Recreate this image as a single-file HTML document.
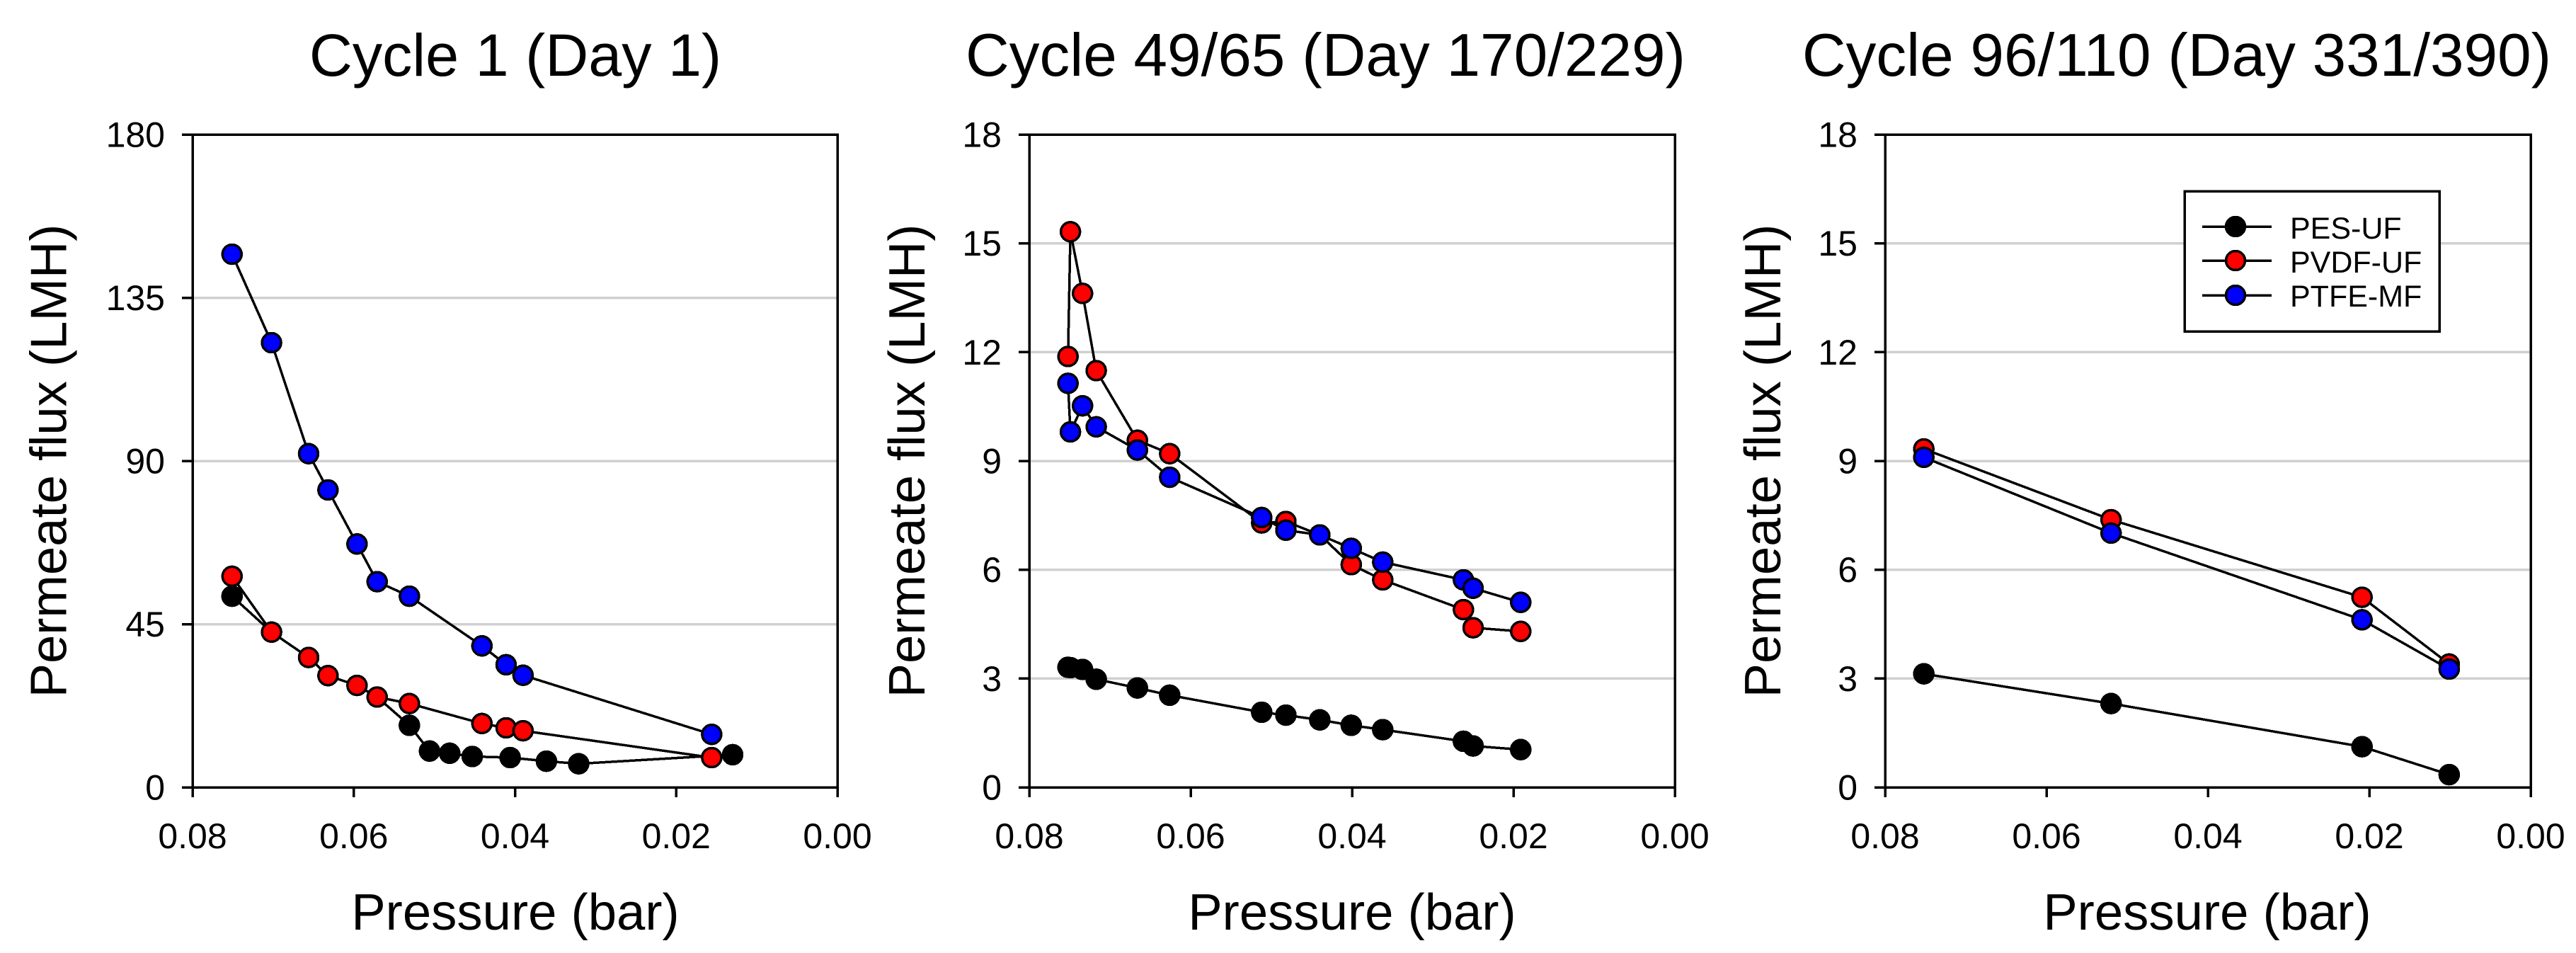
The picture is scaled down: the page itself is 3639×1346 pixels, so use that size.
<!DOCTYPE html>
<html lang="en">
<head>
<meta charset="utf-8">
<title>Permeate flux vs pressure</title>
<style>
html,body{margin:0;padding:0;background:#fff;}
svg{display:block;font-family:"Liberation Sans",Arial,sans-serif;fill:#000;shape-rendering:crispEdges;}
</style>
</head>
<body>
<svg id="chart" xmlns="http://www.w3.org/2000/svg" width="3639" height="1346" viewBox="0 0 3639 1346">
  <rect x="0" y="0" width="3639" height="1346" fill="#fff"/>
  <g id="panel-1"></g>
  <g id="panel-2"></g>
  <g id="panel-3"></g>
  <text x="728" y="107" font-size="84.5" text-anchor="middle">Cycle 1 (Day 1)</text>
  <text x="1872.5" y="107" font-size="85.5" text-anchor="middle">Cycle 49/65 (Day 170/229)</text>
  <text x="3075" y="107" font-size="85.5" text-anchor="middle">Cycle 96/110 (Day 331/390)</text>
  <text x="728" y="1313" font-size="72.5" text-anchor="middle">Pressure (bar)</text>
  <text x="1910" y="1313" font-size="72.5" text-anchor="middle">Pressure (bar)</text>
  <text x="3118" y="1313" font-size="72.5" text-anchor="middle">Pressure (bar)</text>
  <text transform="translate(93.5 651) rotate(-90)" font-size="72.5" text-anchor="middle">Permeate flux (LMH)</text>
  <text transform="translate(1306 651) rotate(-90)" font-size="72.5" text-anchor="middle">Permeate flux (LMH)</text>
  <text transform="translate(2515 651) rotate(-90)" font-size="72.5" text-anchor="middle">Permeate flux (LMH)</text>
  <g>
    <rect x="3086" y="270" width="360" height="198" fill="#fff" stroke="#000" stroke-width="3.5"/>
    <g>
      <line x1="3111" x2="3209" y1="320" y2="320" stroke="#000" stroke-width="3.5"/>
      <circle cx="3158" cy="320" r="13.5" fill="#000" stroke="#000" stroke-width="3.5"/>
      <text x="3235" y="337" font-size="43">PES-UF</text>
    </g>
    <g>
      <line x1="3111" x2="3209" y1="368" y2="368" stroke="#000" stroke-width="3.5"/>
      <circle cx="3158" cy="368" r="13.5" fill="#ff0000" stroke="#000" stroke-width="3.5"/>
      <text x="3235" y="385" font-size="43">PVDF-UF</text>
    </g>
    <g>
      <line x1="3111" x2="3209" y1="417" y2="417" stroke="#000" stroke-width="3.5"/>
      <circle cx="3158" cy="417" r="13.5" fill="#0000ff" stroke="#000" stroke-width="3.5"/>
      <text x="3235" y="433" font-size="43">PTFE-MF</text>
    </g>
  </g>
</svg>
<script>
const xTickValues = [0.08, 0.06, 0.04, 0.02, 0];
const xTickLabels = ['0.08', '0.06', '0.04', '0.02', '0.00'];
const yTicksCycle1 = [0, 45, 90, 135, 180];
const yTicksLater = [0, 3, 6, 9, 12, 15, 18];

const c1PressureMembranes = [0.0751, 0.0702, 0.0656, 0.0632, 0.0596, 0.0571, 0.0531, 0.0441, 0.0411, 0.0390, 0.0156];
const c1PressurePes = [0.0751, 0.0702, 0.0656, 0.0632, 0.0596, 0.0571, 0.0531, 0.0506, 0.0481, 0.0453, 0.0406, 0.0361, 0.0321, 0.0130];
const c1Pes = [52.7, 42.8, 35.8, 30.8, 28.1, 24.9, 17.1, 10.0, 9.4, 8.5, 8.2, 7.2, 6.5, 9.0];
const c1Pvdf = [58.2, 42.8, 35.8, 30.8, 28.1, 24.9, 23.1, 17.6, 16.4, 15.6, 8.2];
const c1Ptfe = [147.0, 122.6, 92.0, 82.0, 67.1, 56.7, 52.7, 39.0, 33.8, 30.9, 14.6];

const c2Pressure = [0.0752, 0.0749, 0.0734, 0.0717, 0.0666, 0.0626, 0.0512, 0.0482, 0.0440, 0.0401, 0.0362, 0.0262, 0.0250, 0.0191];
const c2Pes = [3.31, 3.30, 3.25, 2.98, 2.74, 2.54, 2.07, 1.99, 1.86, 1.71, 1.59, 1.27, 1.14, 1.04];
const c2Pvdf = [11.88, 15.32, 13.62, 11.49, 9.57, 9.20, 7.29, 7.33, 6.96, 6.14, 5.72, 4.90, 4.40, 4.30];
const c2Ptfe = [11.14, 9.80, 10.52, 9.94, 9.30, 8.55, 7.44, 7.09, 6.96, 6.59, 6.21, 5.72, 5.49, 5.10];

const c3Pressure = [0.0752, 0.0520, 0.0209, 0.0101];
const c3Pes = [3.13, 2.31, 1.12, 0.35];
const c3Pvdf = [9.33, 7.38, 5.24, 3.40];
const c3Ptfe = [9.10, 7.01, 4.62, 3.26];

const SVG_NS = 'http://www.w3.org/2000/svg';
const PLOT_TOP = 190;
const PLOT_BOTTOM = 1112;
const X_DOMAIN_MAX = 0.08;

function create(tag, parent) {
  const el = document.createElementNS(SVG_NS, tag);
  parent.appendChild(el);
  return el;
}

function drawLine(parent, x1, y1, x2, y2, color, width) {
  const line = create('line', parent);
  line.setAttribute('x1', x1);
  line.setAttribute('y1', y1);
  line.setAttribute('x2', x2);
  line.setAttribute('y2', y2);
  line.setAttribute('stroke', color);
  line.setAttribute('stroke-width', width);
  return line;
}

function drawSeries(parent, name, color, xs, ys, xScale, yScale) {
  const group = create('g', parent);
  
  
  const path = create('polyline', group);
  
  
  path.setAttribute('fill', 'none');
  path.setAttribute('stroke', '#000');
  path.setAttribute('stroke-width', '3.5');
  path.setAttribute('points', xs.map((x, i) => xScale(x) + ',' + yScale(ys[i])).join(' '));
  xs.forEach((x, i) => {
    const point = create('circle', group);
    
    
    point.setAttribute('cx', xScale(x));
    point.setAttribute('cy', yScale(ys[i]));
    point.setAttribute('r', '13.5');
    point.setAttribute('fill', color);
    point.setAttribute('stroke', '#000');
    point.setAttribute('stroke-width', '3.5');
  });
}

function drawPanel(id, left, right, yTicks, series) {
  const root = document.getElementById(id);
  const yMax = yTicks[yTicks.length - 1];
  const xScale = v => left + (X_DOMAIN_MAX - v) / X_DOMAIN_MAX * (right - left);
  const yScale = v => PLOT_BOTTOM - v / yMax * (PLOT_BOTTOM - PLOT_TOP);

  yTicks.forEach(t => {
    if (t !== 0 && t !== yMax) {
      const grid = drawLine(root, left, yScale(t), right, yScale(t), '#d0d0d0', 3.5);
      
      
    }
  });

  const frame = create('rect', root);
  
  
  frame.setAttribute('x', left);
  frame.setAttribute('y', PLOT_TOP);
  frame.setAttribute('width', right - left);
  frame.setAttribute('height', PLOT_BOTTOM - PLOT_TOP);
  frame.setAttribute('fill', 'none');
  frame.setAttribute('stroke', '#000');
  frame.setAttribute('stroke-width', '3.5');

  yTicks.forEach(t => {
    const tick = drawLine(root, left - 15, yScale(t), left, yScale(t), '#000', 3.5);
    
    
    const label = create('text', root);
    
    
    label.setAttribute('x', left - 39);
    label.setAttribute('y', yScale(t) + 17.5);
    label.setAttribute('font-size', '50');
    label.setAttribute('text-anchor', 'end');
    label.textContent = String(t);
  });

  xTickValues.forEach((v, i) => {
    const tick = drawLine(root, xScale(v), PLOT_BOTTOM, xScale(v), PLOT_BOTTOM + 14, '#000', 3.5);
    
    
    const label = create('text', root);
    
    
    label.setAttribute('x', xScale(v));
    label.setAttribute('y', 1198);
    label.setAttribute('font-size', '50');
    label.setAttribute('text-anchor', 'middle');
    label.textContent = xTickLabels[i];
  });

  series.forEach(s => drawSeries(root, s[0], s[1], s[2], s[3], xScale, yScale));
}

drawPanel('panel-1', 272, 1183, yTicksCycle1, [
  ['pes-uf', '#000000', c1PressurePes, c1Pes],
  ['pvdf-uf', '#ff0000', c1PressureMembranes, c1Pvdf],
  ['ptfe-mf', '#0000ff', c1PressureMembranes, c1Ptfe]
]);
drawPanel('panel-2', 1454, 2366, yTicksLater, [
  ['pes-uf', '#000000', c2Pressure, c2Pes],
  ['pvdf-uf', '#ff0000', c2Pressure, c2Pvdf],
  ['ptfe-mf', '#0000ff', c2Pressure, c2Ptfe]
]);
drawPanel('panel-3', 2663, 3575, yTicksLater, [
  ['pes-uf', '#000000', c3Pressure, c3Pes],
  ['pvdf-uf', '#ff0000', c3Pressure, c3Pvdf],
  ['ptfe-mf', '#0000ff', c3Pressure, c3Ptfe]
]);
</script>
</body>
</html>
